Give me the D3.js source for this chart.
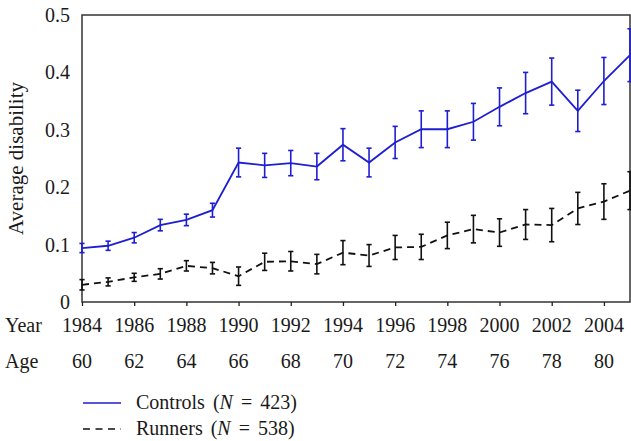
<!DOCTYPE html>
<html>
<head>
<meta charset="utf-8">
<script src="https://cdn.jsdelivr.net/npm/d3@7"></script>
<style>
  html, body { margin: 0; padding: 0; background: #fff; }
</style>
</head>
<body>
<svg id="chart" width="631" height="441"></svg>
<script>
// ---- data ----
const years = [1984,1985,1986,1987,1988,1989,1990,1991,1992,1993,1994,1995,1996,1997,1998,1999,2000,2001,2002,2003,2004,2005];
const controls = [0.094,0.098,0.112,0.134,0.143,0.160,0.243,0.238,0.242,0.236,0.274,0.243,0.278,0.301,0.301,0.314,0.340,0.364,0.384,0.333,0.385,0.430];
const controlsErr = [0.008,0.008,0.009,0.010,0.010,0.012,0.025,0.021,0.022,0.023,0.028,0.025,0.028,0.032,0.032,0.032,0.033,0.036,0.041,0.036,0.041,0.046];
const runners = [0.030,0.035,0.043,0.049,0.063,0.059,0.045,0.070,0.071,0.066,0.086,0.081,0.095,0.096,0.116,0.127,0.121,0.135,0.134,0.163,0.175,0.194];
const runnersErr = [0.009,0.007,0.007,0.009,0.009,0.010,0.016,0.015,0.017,0.017,0.021,0.019,0.021,0.022,0.023,0.024,0.024,0.026,0.029,0.028,0.031,0.033];
const yearTicks = [1984,1986,1988,1990,1992,1994,1996,1998,2000,2002,2004];
const ageTicks = [60,62,64,66,68,70,72,74,76,78,80];
const yTicks = [0,0.1,0.2,0.3,0.4,0.5];
const seriesNames = ["Controls", "Runners"];
const seriesN = [423, 538];

// ---- layout ----
const FONT = "'Times New Roman'";
const svg = d3.select("#chart");
const mLeft = 82, mRight = 630, mTop = 15, mBottom = 302;
const x = d3.scaleLinear().domain([1984, 2005]).range([mLeft, mRight]);
const y = d3.scaleLinear().domain([0, 0.5]).range([mBottom, mTop]);
const blue = "#1e1ed2";
const black = "#111";
const txtColor = "#1a1a1a";

function addText(g) {
  return g.append("text").attr("font-family", FONT).attr("fill", txtColor);
}

// frame
svg.append("rect").attr("x", mLeft).attr("y", mTop).attr("width", mRight - mLeft).attr("height", mBottom - mTop)
  .attr("fill", "none").attr("stroke", "#333").attr("stroke-width", 1.5);

// x axis ticks (outward)
const xAxis = d3.axisBottom(x).tickValues(yearTicks).tickSize(4).tickFormat("");
const gx = svg.append("g").attr("transform", `translate(0,${mBottom})`).call(xAxis);
gx.select(".domain").remove();
gx.selectAll("line").attr("stroke", "#222").attr("stroke-width", 1.3);

// y axis labels
const yAxis = d3.axisLeft(y).tickValues(yTicks).tickSize(0).tickPadding(12)
  .tickFormat(d => d === 0 ? "0" : d3.format(".1f")(d));
const gy = svg.append("g").attr("transform", `translate(${mLeft},0)`).call(yAxis);
gy.attr("font-family", FONT);
gy.select(".domain").remove();
gy.selectAll("text").attr("font-size", 20).attr("font-family", FONT).attr("fill", txtColor);

// y title
addText(svg).attr("transform", `translate(23,${(mTop + mBottom) / 2}) rotate(-90)`)
  .attr("text-anchor", "middle").attr("font-size", 21).text("Average disability");

// Year and Age rows
addText(svg).attr("x", 5).attr("y", 332).attr("font-size", 20).text("Year");
addText(svg).attr("x", 5).attr("y", 368).attr("font-size", 20).text("Age");
yearTicks.forEach(d => {
  addText(svg).attr("x", x(d)).attr("y", 332).attr("text-anchor", "middle").attr("font-size", 20).text(d);
});
ageTicks.forEach((d, i) => {
  addText(svg).attr("x", x(yearTicks[i])).attr("y", 368).attr("text-anchor", "middle").attr("font-size", 20).text(d);
});

// series
function drawSeries(vals, errs, color, dash) {
  const g = svg.append("g");
  const pts = years.map((yr, i) => ({ yr, v: vals[i], e: errs[i] }));
  const line = d3.line().x(d => x(d.yr)).y(d => y(d.v));
  g.append("path").datum(pts).attr("d", line).attr("fill", "none")
    .attr("stroke", color).attr("stroke-width", 1.8).attr("stroke-dasharray", dash);
  const eb = g.selectAll(".eb").data(pts).enter().append("g");
  eb.append("line").attr("x1", d => x(d.yr)).attr("x2", d => x(d.yr))
    .attr("y1", d => y(d.v - d.e)).attr("y2", d => y(d.v + d.e)).attr("stroke", color).attr("stroke-width", 1.6);
  [1, -1].forEach(s => {
    eb.append("line").attr("x1", d => x(d.yr) - 2.6).attr("x2", d => x(d.yr) + 2.6)
      .attr("y1", d => y(d.v + s * d.e)).attr("y2", d => y(d.v + s * d.e)).attr("stroke", color).attr("stroke-width", 1.6);
  });
}
drawSeries(runners, runnersErr, black, "7,5");
drawSeries(controls, controlsErr, blue, null);

// legend
const legY = [403, 429];
const legColor = [blue, black];
const legDash = [null, "7,5.5"];
seriesNames.forEach((name, i) => {
  svg.append("line").attr("x1", 83).attr("x2", 121).attr("y1", legY[i]).attr("y2", legY[i])
    .attr("stroke", legColor[i]).attr("stroke-width", 1.6).attr("stroke-dasharray", legDash[i]);
  const t = addText(svg).attr("x", 136).attr("y", legY[i] + 6).attr("font-size", 20).attr("word-spacing", 3);
  t.append("tspan").text(name + " (");
  t.append("tspan").attr("font-style", "italic").text("N");
  t.append("tspan").text(" = " + seriesN[i] + ")");
});
</script>
</body>
</html>
